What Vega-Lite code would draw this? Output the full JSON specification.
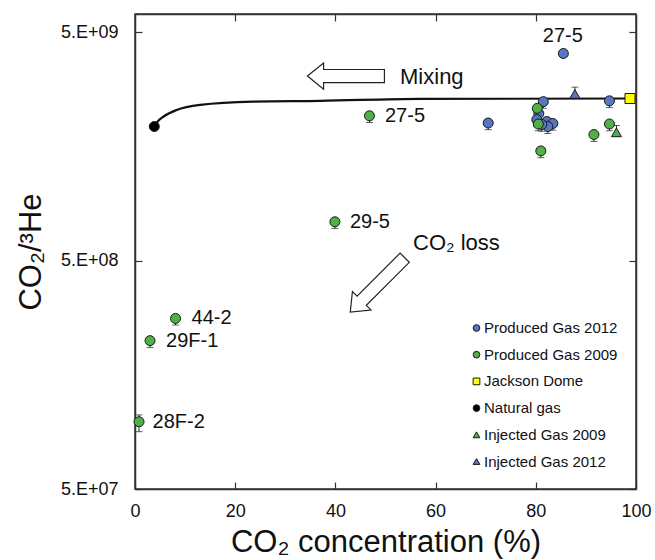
{
  "$schema": "https://vega.github.io/schema/vega-lite/v6.json",
  "width": 501,
  "height": 475,
  "autosize": "none",
  "padding": {"left": 135, "top": 14, "right": 19, "bottom": 71},
  "background": "white",
  "config": {
    "view": {"stroke": "#333", "strokeWidth": 1.5},
    "axis": {
      "domainColor": "#333", "domainWidth": 1.5, "tickColor": "#333", "tickWidth": 1.2,
      "grid": false, "labelFont": "Liberation Sans", "titleFont": "Liberation Sans",
      "labelColor": "#111", "titleColor": "#111", "labelFontSize": 18,
      "titleFontSize": 31, "titleFontWeight": "normal", "labelFlush": false
    },
    "text": {"font": "Liberation Sans", "color": "#111"}
  },
  "resolve": {"axis": {"x": "independent", "y": "independent"}},
  "datasets": {
    "points": [
      {"series": "Produced Gas 2012", "x": 85.5, "y": 4030000000},
      {"series": "Produced Gas 2012", "x": 70.5, "y": 2000000000, "lo": 1870000000, "hi": 2060000000},
      {"series": "Produced Gas 2012", "x": 81.5, "y": 2480000000, "lo": 2320000000, "hi": 2550000000},
      {"series": "Produced Gas 2012", "x": 94.7, "y": 2500000000, "lo": 2340000000, "hi": 2580000000},
      {"series": "Produced Gas 2012", "x": 80.6, "y": 2200000000, "lo": 2060000000, "hi": 2270000000},
      {"series": "Produced Gas 2012", "x": 80.2, "y": 2070000000, "lo": 1930000000, "hi": 2130000000},
      {"series": "Produced Gas 2012", "x": 82.2, "y": 2030000000, "lo": 1900000000, "hi": 2090000000},
      {"series": "Produced Gas 2012", "x": 83.4, "y": 1990000000, "lo": 1860000000, "hi": 2050000000},
      {"series": "Produced Gas 2012", "x": 82.4, "y": 1930000000, "lo": 1800000000, "hi": 1990000000},
      {"series": "Produced Gas 2012", "x": 81.2, "y": 1970000000, "lo": 1840000000, "hi": 2030000000},
      {"series": "Produced Gas 2009", "x": 46.8, "y": 2150000000, "lo": 2010000000, "hi": 2210000000},
      {"series": "Produced Gas 2009", "x": 39.9, "y": 739000000, "lo": 691000000, "hi": 761000000},
      {"series": "Produced Gas 2009", "x": 8.1, "y": 279000000, "lo": 261000000, "hi": 287000000},
      {"series": "Produced Gas 2009", "x": 3.0, "y": 223000000, "lo": 208000000, "hi": 230000000},
      {"series": "Produced Gas 2009", "x": 0.8, "y": 98500000, "lo": 89100000, "hi": 105500000},
      {"series": "Produced Gas 2009", "x": 80.3, "y": 2320000000, "lo": 2170000000, "hi": 2390000000},
      {"series": "Produced Gas 2009", "x": 80.5, "y": 1980000000, "lo": 1850000000, "hi": 2040000000},
      {"series": "Produced Gas 2009", "x": 81.0, "y": 1510000000, "lo": 1410000000, "hi": 1560000000},
      {"series": "Produced Gas 2009", "x": 91.6, "y": 1780000000, "lo": 1660000000, "hi": 1830000000},
      {"series": "Produced Gas 2009", "x": 94.7, "y": 1980000000, "lo": 1850000000, "hi": 2040000000},
      {"series": "Jackson Dome", "x": 98.8, "y": 2560000000},
      {"series": "Natural gas", "x": 3.85, "y": 1930000000},
      {"series": "Injected Gas 2009", "x": 96.1, "y": 1820000000, "lo": 1750000000, "hi": 1950000000},
      {"series": "Injected Gas 2012", "x": 87.8, "y": 2680000000, "lo": 2580000000, "hi": 2870000000}
    ],
    "curve": [
      {"x": 3.85, "y": 1930000000},
      {"x": 4.6, "y": 2040000000},
      {"x": 5.65, "y": 2130000000},
      {"x": 8.3, "y": 2280000000},
      {"x": 13.0, "y": 2400000000},
      {"x": 23.6, "y": 2480000000},
      {"x": 36.9, "y": 2500000000},
      {"x": 56.9, "y": 2550000000},
      {"x": 98.8, "y": 2560000000}
    ],
    "labels": [
      {"label": "27-5", "x": 81.4, "y": 4800000000},
      {"label": "27-5", "x": 49.9, "y": 2150000000},
      {"label": "29-5", "x": 42.9, "y": 739000000},
      {"label": "44-2", "x": 11.3, "y": 279000000},
      {"label": "29F-1", "x": 6.2, "y": 223000000},
      {"label": "28F-2", "x": 3.5, "y": 98500000}
    ],
    "notes": [
      {"label": "Mixing", "x": 52.9, "y": 3180000000},
      {"label": "CO₂ loss", "x": 55.5, "y": 596000000}
    ],
    "arrows": [
      {"name": "mixing", "x": 42.1, "y": 3210000000},
      {"name": "loss", "x": 48.4, "y": 391000000}
    ]
  },
  "layer": [
    {
      "data": {"name": "curve"},
      "mark": {"type": "line", "color": "#111", "strokeWidth": 2.2, "interpolate": "monotone"},
      "encoding": {
        "x": {"field": "x", "type": "quantitative", "scale": {"domain": [0, 100], "nice": false},
          "axis": {"orient": "top", "values": [20, 40, 60, 80], "labels": false, "tickSize": -7, "title": null}},
        "y": {"field": "y", "type": "quantitative", "scale": {"type": "log", "domain": [50000000, 6000000000], "nice": false},
          "axis": {"orient": "right", "values": [50000000, 500000000, 5000000000], "labels": false, "tickSize": -7, "title": null}}
      }
    },
    {
      "data": {"name": "points"},
      "transform": [{"filter": "datum.lo != null"}],
      "mark": {"type": "errorbar", "ticks": {"size": 7}, "color": "#222", "thickness": 1},
      "encoding": {
        "x": {"field": "x", "type": "quantitative", "axis": null},
        "y": {"field": "lo", "type": "quantitative", "axis": null},
        "y2": {"field": "hi"}
      }
    },
    {
      "data": {"name": "points"},
      "mark": {"type": "point", "filled": true, "stroke": "#1a1a1a", "strokeWidth": 1, "size": 100, "opacity": 1},
      "encoding": {
        "x": {"field": "x", "type": "quantitative",
          "axis": {"orient": "bottom", "values": [0, 20, 40, 60, 80, 100], "tickSize": -7, "labelPadding": 20, "title": "CO₂ concentration (%)", "titlePadding": 7}},
        "y": {"field": "y", "type": "quantitative",
          "axis": {"orient": "left", "values": [50000000, 500000000, 5000000000], "tickSize": -7, "labelPadding": 24,
            "labelExpr": "datum.value < 100000000 ? '5.E+07' : (datum.value < 1000000000 ? '5.E+08' : '5.E+09')",
            "title": "CO₂/³He", "titlePadding": 13}},
        "color": {"field": "series", "type": "nominal",
          "scale": {"domain": ["Produced Gas 2012", "Produced Gas 2009", "Jackson Dome", "Natural gas", "Injected Gas 2009", "Injected Gas 2012"],
            "range": ["#5676C4", "#50B048", "#FFFF00", "#000000", "#50B048", "#5676C4"]},
          "legend": {"orient": "none", "legendX": 334, "legendY": 306.5, "title": null, "labelFont": "Liberation Sans",
            "labelFontSize": 15, "labelColor": "#111", "symbolSize": 45, "symbolStrokeColor": "#1a1a1a",
            "symbolStrokeWidth": 1, "rowPadding": 10.7, "labelOffset": 0, "padding": 0}},
        "shape": {"field": "series", "type": "nominal",
          "scale": {"domain": ["Produced Gas 2012", "Produced Gas 2009", "Jackson Dome", "Natural gas", "Injected Gas 2009", "Injected Gas 2012"],
            "range": ["circle", "circle", "square", "circle", "triangle-up", "triangle-up"]}}
      }
    },
    {
      "data": {"name": "labels"},
      "mark": {"type": "text", "align": "left", "baseline": "middle", "fontSize": 20, "font": "Liberation Sans", "color": "#111"},
      "encoding": {
        "x": {"field": "x", "type": "quantitative", "axis": null},
        "y": {"field": "y", "type": "quantitative", "axis": null},
        "text": {"field": "label"}
      }
    },
    {
      "data": {"name": "notes"},
      "mark": {"type": "text", "align": "left", "baseline": "middle", "fontSize": 22, "font": "Liberation Sans", "color": "#111"},
      "encoding": {
        "x": {"field": "x", "type": "quantitative", "axis": null},
        "y": {"field": "y", "type": "quantitative", "axis": null},
        "text": {"field": "label"}
      }
    },
    {
      "data": {"name": "arrows"},
      "transform": [{"filter": "datum.name == 'mixing'"}],
      "mark": {"type": "point", "shape": "M -1 0 L -0.58 -0.34 L -0.58 -0.17 L 1 -0.17 L 1 0.17 L -0.58 0.17 L -0.58 0.34 Z",
        "size": 5929, "filled": true, "fill": "white", "stroke": "#222", "strokeWidth": 1.2, "opacity": 1},
      "encoding": {
        "x": {"field": "x", "type": "quantitative", "axis": null},
        "y": {"field": "y", "type": "quantitative", "axis": null}
      }
    },
    {
      "data": {"name": "arrows"},
      "transform": [{"filter": "datum.name == 'loss'"}],
      "mark": {"type": "point", "shape": "M -1 0 L -0.58 -0.34 L -0.58 -0.17 L 1 -0.17 L 1 0.17 L -0.58 0.17 L -0.58 0.34 Z",
        "size": 5929, "angle": 315, "filled": true, "fill": "white", "stroke": "#222", "strokeWidth": 1.2, "opacity": 1},
      "encoding": {
        "x": {"field": "x", "type": "quantitative", "axis": null},
        "y": {"field": "y", "type": "quantitative", "axis": null}
      }
    }
  ]
}
